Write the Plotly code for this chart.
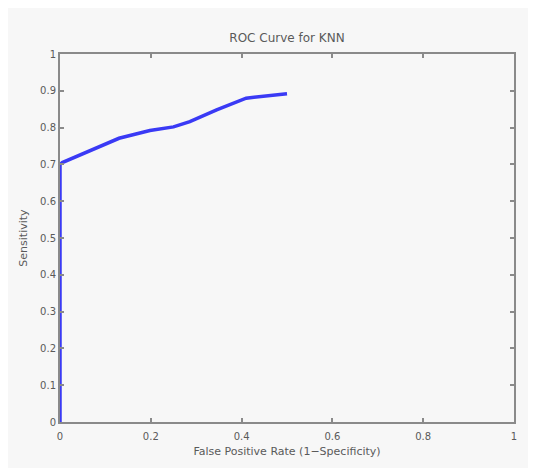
import plotly.graph_objects as go

fpr = [0.0, 0.0, 0.005, 0.13, 0.198, 0.25, 0.286, 0.345, 0.41, 0.448, 0.50]
tpr = [0.0, 0.70, 0.705, 0.771, 0.792, 0.802, 0.816, 0.848, 0.880, 0.886, 0.892]

x_ticks = [0, 0.2, 0.4, 0.6, 0.8, 1]
x_labels = ["0", "0.2", "0.4", "0.6", "0.8", "1"]
y_ticks = [0, 0.1, 0.2, 0.3, 0.4, 0.5, 0.6, 0.7, 0.8, 0.9, 1]
y_labels = ["0", "0.1", "0.2", "0.3", "0.4", "0.5", "0.6", "0.7", "0.8", "0.9", "1"]

FONT = "DejaVu Sans"
TXT = "#5a5a5a"

fig = go.Figure()
fig.add_trace(go.Scatter(x=fpr, y=tpr, mode="lines",
                         line=dict(color="#3a3af5", width=3.5), showlegend=False))

axis_common = dict(showgrid=False, zeroline=False, showline=True, linecolor="#8a8a8a",
                   linewidth=2, mirror="ticks", ticks="inside", ticklen=4,
                   tickcolor="#8a8a8a", tickwidth=1.5,
                   tickfont=dict(family=FONT, size=10, color=TXT))

fig.update_layout(
    width=536, height=468,
    margin=dict(l=52, r=30, t=46, b=54),
    paper_bgcolor="#f7f7f7", plot_bgcolor="#f7f7f7",
    title=dict(text="ROC Curve for KNN", x=0.5, xref="paper", xanchor="center",
               y=1 - 30 / 468, yref="container", yanchor="middle",
               font=dict(family=FONT, size=12, color=TXT)),
    xaxis=dict(range=[0, 1], tickvals=x_ticks, ticktext=x_labels, ticklabelstandoff=4,
               title=dict(text="False Positive Rate (1\u2212Specificity)", standoff=6,
                          font=dict(family=FONT, size=11, color=TXT)),
               **axis_common),
    yaxis=dict(range=[0, 1], tickvals=y_ticks, ticktext=y_labels,
               title=dict(text="Sensitivity", standoff=10,
                          font=dict(family=FONT, size=11, color=TXT)),
               **axis_common),
)

fig.write_html("out.html")
